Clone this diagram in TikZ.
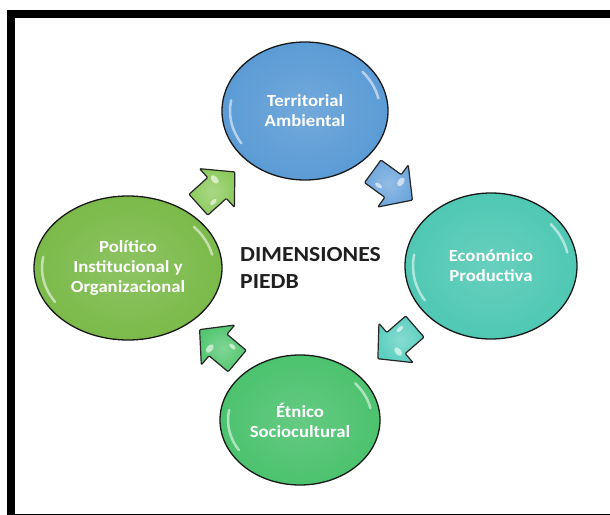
\documentclass[tikz,border=0pt]{standalone}
\usepackage{fontspec}
\setmainfont{Carlito}[FakeStretch=1.1]
\usetikzlibrary{shapes.geometric}
\definecolor{cblue}{HTML}{5B9BD5}
\definecolor{cteal}{HTML}{4FC8B3}
\definecolor{cgreen}{HTML}{4CC26E}
\definecolor{clime}{HTML}{7BBA4A}
\definecolor{ablue}{HTML}{6EA6DC}
\definecolor{ateal}{HTML}{5DD0C0}
\definecolor{agreen}{HTML}{55C772}
\definecolor{alime}{HTML}{8DCB5E}
\tikzset{
  dimcirc/.style={ellipse, draw=black!90, line width=1.3pt, inner color=#1!86!white, outer color=#1,
    text=white, font=\bfseries\fontsize{17}{20}\selectfont, align=center, inner sep=0pt},
  hl/.style={draw=white, line width=2.5pt, line cap=round, opacity=0.55},
  blockarrow/.style={draw=black!85, line width=1.2pt, line join=round, rounded corners=1pt,
    inner color=#1!75!white, outer color=#1},
  glint/.style={fill=white, opacity=0.6}
}
\newcommand{\blkarrow}[3]{%
  \begin{scope}[shift={#1}, rotate=#2]
    \path[blockarrow=#3] (-25,-14) -- (0,-14) -- (0,-26) -- (24,0) -- (0,26) -- (0,14) -- (-25,14) -- cycle;
    \fill[glint] (4,-8) ellipse (3 and 5);
    \fill[glint] (-12,8) ellipse (4 and 2);
  \end{scope}}
\begin{document}
\begin{tikzpicture}[x=1pt,y=-1pt]
\useasboundingbox (0,0) rectangle (610,514);
\fill[white] (0,0) rectangle (610,514);
\begin{scope}
  \clip (0,0) rectangle (610,514);
  \draw[line width=8pt] (11,14) rectangle (624,518);
\end{scope}

% dimension ellipses
\node[dimcirc=cblue, minimum width=166pt, minimum height=138pt] (ta) at (305,111) {Territorial\\Ambiental};
\node[dimcirc=cteal, minimum width=172pt, minimum height=146pt] (ep) at (491,266) {Económico\\Productiva};
\node[dimcirc=cgreen, minimum width=160pt, minimum height=130pt] (es) at (300,420) {Étnico\\Sociocultural};
\node[dimcirc=clime, minimum width=188pt, minimum height=144pt] (pi) at (128,268) {Político\\Institucional y\\Organizacional};

% highlights
\foreach \n/\rx/\ry in {ta/75/61, ep/78/65, es/72/57, pi/86/64}{
  \begin{scope}[shift={(\n.center)}]
    \draw[hl] (170:\rx pt and \ry pt) arc (170:212:\rx pt and \ry pt);
    \draw[hl] (12:\rx pt and \ry pt) arc (12:40:\rx pt and \ry pt);
  \end{scope}}

% centre title
\node[font=\bfseries\fontsize{21.5}{27}\selectfont, text=black!88, align=left, anchor=west, inner sep=0pt] (dim) at (240,268) {DIMENSIONES\\PIEDB};

% block arrows
\blkarrow{(217,188)}{42}{alime}
\blkarrow{(393,186)}{-36}{ablue}
\blkarrow{(396,343)}{-139}{ateal}
\blkarrow{(218,345)}{140}{agreen}
\end{tikzpicture}
\end{document}
